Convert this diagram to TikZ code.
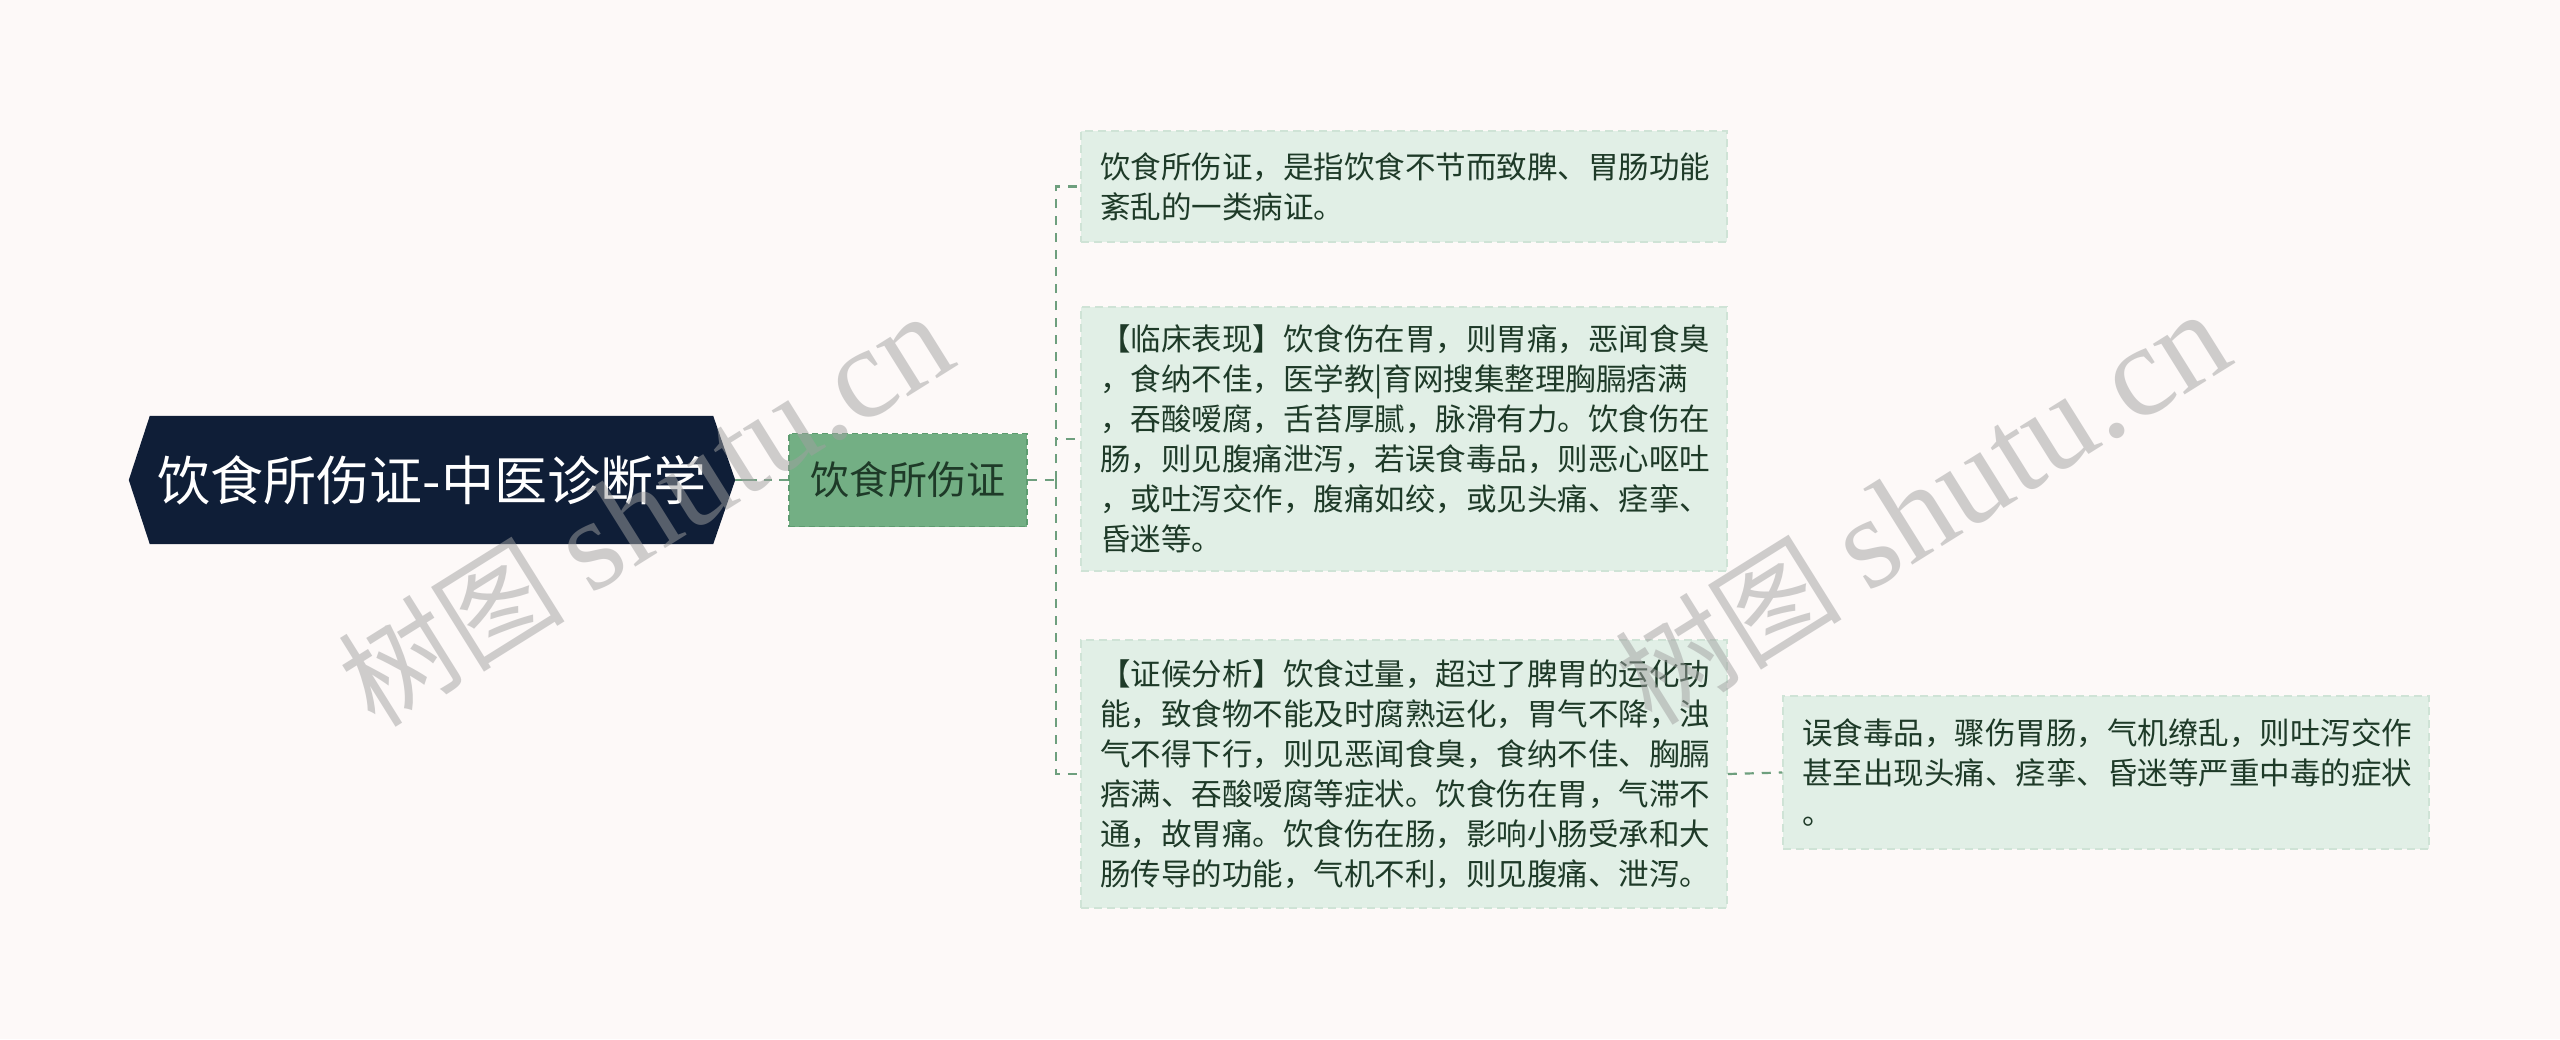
\documentclass[tikz,border=0pt]{standalone}
\usepackage{fontspec}
\newfontfamily\cjk{Noto Sans CJK SC}
\newfontfamily\wmserif{Liberation Serif}
\usetikzlibrary{calc}
\definecolor{bgc}{HTML}{FDF9F8}
\definecolor{rootc}{HTML}{0F1E37}
\definecolor{midc}{HTML}{73AF84}
\definecolor{midborder}{HTML}{5E9C70}
\definecolor{boxc}{HTML}{E1EFE6}
\definecolor{boxborder}{HTML}{CFE3D6}
\definecolor{linec}{HTML}{6E9F7E}
\definecolor{txtc}{HTML}{1E3A28}
\definecolor{wmc}{HTML}{A0A0A0}
\pgfdeclarelayer{back}
\pgfdeclarelayer{shapes}
\pgfsetlayers{back,shapes,main}
\tikzset{
  rootnode/.style={inner sep=0pt, minimum width=606pt, minimum height=128pt, text=white, font=\cjk\fontsize{53}{62}\selectfont},
  midnode/.style={draw=midborder, fill=midc, dash pattern=on 6pt off 4pt, line width=1.5pt, inner sep=0pt, minimum width=238pt, minimum height=93pt, text=txtc, font=\cjk\fontsize{39}{46}\selectfont},
  leaf/.style={draw=boxborder, fill=boxc, dash pattern=on 8pt off 5pt, line width=1.5pt, inner xsep=19pt, inner ysep=0pt, text width=608pt, minimum width=646pt, align=left, text=txtc, font=\cjk\fontsize{30.5}{40}\selectfont},
  conn/.style={draw=linec, line width=2.2pt, dash pattern=on 9pt off 8pt},
  wm/.style={text=wmc, opacity=0.5, rotate=32, inner sep=0pt}
}
\begin{document}
\begin{tikzpicture}[x=1pt,y=-1pt]
\begin{pgfonlayer}{back}
\fill[bgc] (0,0) rectangle (2560,1039);
\end{pgfonlayer}
\useasboundingbox (0,0) rectangle (2560,1039);

\node[rootnode] (root) at (432,480) {饮食所伤证-中医诊断学};
\begin{pgfonlayer}{shapes}
\fill[rootc] (root.west) -- ([xshift=21pt]root.north west) -- ([xshift=-22pt]root.north east) -- (root.east) -- ([xshift=-22pt]root.south east) -- ([xshift=21pt]root.south west) -- cycle;
\end{pgfonlayer}

\node[midnode] (mid) at (908,480) {饮食所伤证};

\node[leaf, minimum height=111pt] (b1) at (1404,186.5) {饮食所伤证，是指饮食不节而致脾、胃肠功能\\紊乱的一类病证。};
\node[leaf, minimum height=264pt] (b2) at (1404,439) {【临床表现】饮食伤在胃，则胃痛，恶闻食臭\\，食纳不佳，医学教|育网搜集整理胸膈痞满\\，吞酸嗳腐，舌苔厚腻，脉滑有力。饮食伤在\\肠，则见腹痛泄泻，若误食毒品，则恶心呕吐\\，或吐泻交作，腹痛如绞，或见头痛、痉挛、\\昏迷等。};
\node[leaf, minimum height=268pt] (b3) at (1404,774) {【证候分析】饮食过量，超过了脾胃的运化功\\能，致食物不能及时腐熟运化，胃气不降，浊\\气不得下行，则见恶闻食臭，食纳不佳、胸膈\\痞满、吞酸嗳腐等症状。饮食伤在胃，气滞不\\通，故胃痛。饮食伤在肠，影响小肠受承和大\\肠传导的功能，气机不利，则见腹痛、泄泻。};
\node[leaf, minimum height=153pt] (b4) at (2106,772.5) {误食毒品，骤伤胃肠，气机缭乱，则吐泻交作\\甚至出现头痛、痉挛、昏迷等严重中毒的症状\\。};

\draw[conn, dash pattern=on 22pt off 7pt on 8pt off 7pt] (root.east) -- (mid.west);
\coordinate (spine) at ($(mid.east)+(28,0)$);
\draw[conn] (mid.east) -- (spine);
\draw[conn] (spine) |- (b1.west);
\draw[conn] (spine) |- (b2.west);
\draw[conn] (spine) |- (b3.west);
\draw[conn] (b3.east) -- (b4.west);

\node[wm] (wm1) at (645,510) {\cjk\fontsize{114}{124}\selectfont 树图 \wmserif\fontsize{130}{134}\selectfont shutu.cn};
\node[wm] (wm2) at (1922,508) {\cjk\fontsize{114}{124}\selectfont 树图 \wmserif\fontsize{130}{134}\selectfont shutu.cn};
\end{tikzpicture}
\end{document}
